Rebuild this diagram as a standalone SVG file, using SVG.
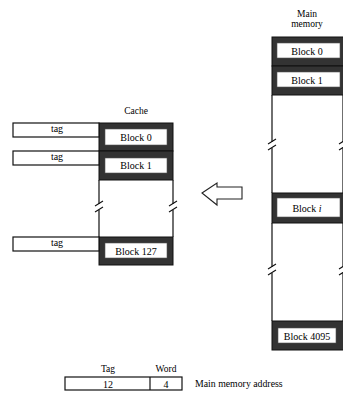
<svg xmlns="http://www.w3.org/2000/svg" width="343" height="399" viewBox="0 0 343 399">
<style>
text{font-family:"Liberation Serif","Times New Roman",serif;fill:#000;text-anchor:middle}
.lbl{font-size:9.5px}
.blk{font-size:10px}
.band{fill:#333;stroke:#111;stroke-width:1}
.inner{fill:#fff;stroke:#555;stroke-width:0.6}
.box{fill:#fff;stroke:#111;stroke-width:1.2}
.ln{stroke:#111;stroke-width:1.2;fill:none}
.brk{stroke:#111;stroke-width:1.1;fill:none}
</style>
<rect width="343" height="399" fill="#fff"/>

<g id="cache">
  <text class="lbl" x="136" y="114">Cache</text>
  <path class="ln" d="M99,180 V204 M99,210 V237 M173,180 V204 M173,210 V237"/>
  <path class="brk" d="M95,206 L103,201 M95,212 L103,207 M169,206 L177,201 M169,212 L177,207"/>
</g>
<g id="cache-block0">
  <rect class="band" x="99" y="123" width="74" height="28"/>
  <rect class="inner" x="105" y="129" width="62" height="16"/>
  <text class="blk" x="136" y="140.5">Block 0</text>
</g>
<g id="cache-block1">
  <rect class="band" x="99" y="151" width="74" height="29"/>
  <rect class="inner" x="105" y="158" width="62" height="15"/>
  <text class="blk" x="136" y="169">Block 1</text>
</g>
<g id="cache-block127">
  <rect class="band" x="99" y="237" width="74" height="28"/>
  <rect class="inner" x="105" y="243" width="62" height="15"/>
  <text class="blk" x="136" y="254.5">Block 127</text>
</g>
<g id="tag0">
  <rect class="box" x="13" y="123" width="86" height="14"/>
  <text class="blk" x="57" y="131.5">tag</text>
</g>
<g id="tag1">
  <rect class="box" x="13" y="151" width="86" height="14"/>
  <text class="blk" x="57" y="159.5">tag</text>
</g>
<g id="tag127">
  <rect class="box" x="13" y="237" width="86" height="14"/>
  <text class="blk" x="57" y="245.5">tag</text>
</g>

<g id="main-memory">
  <text class="lbl" x="307" y="17">Main</text>
  <text class="lbl" x="307" y="27">memory</text>
  <path class="ln" d="M272,95 V142 M272,148 V193 M272,223 V267 M272,273 V321 M343,95 V142 M343,148 V193 M343,223 V267 M343,273 V321"/>
  <path class="brk" d="M268,144 L276,139 M268,150 L276,145 M268,269 L276,264 M268,275 L276,270 M339,144 L347,139 M339,150 L347,145 M339,269 L347,264 M339,275 L347,270"/>
</g>
<g id="mm-block0">
  <rect class="band" x="272" y="37" width="72" height="29"/>
  <rect class="inner" x="277" y="43" width="63" height="15"/>
  <text class="blk" x="307" y="54.5">Block 0</text>
</g>
<g id="mm-block1">
  <rect class="band" x="272" y="66" width="72" height="29"/>
  <rect class="inner" x="277" y="72" width="63" height="15"/>
  <text class="blk" x="307" y="83.5">Block 1</text>
</g>
<g id="mm-blocki">
  <rect class="band" x="272" y="193" width="72" height="30"/>
  <rect class="inner" x="277" y="198" width="63" height="19"/>
  <text class="blk" x="307" y="211.5">Block <tspan font-style="italic">i</tspan></text>
</g>
<g id="mm-block4095">
  <rect class="band" x="272" y="321" width="72" height="29"/>
  <rect class="inner" x="278" y="328" width="58" height="15"/>
  <text class="blk" x="307" y="339.5">Block 4095</text>
</g>

<g id="connectors">
  <path d="M202,193 L217,183 L217,187 L242,187 L242,199 L217,199 L217,205 Z" fill="#fff" stroke="#222" stroke-width="1.1" stroke-linejoin="miter"/>
</g>

<g id="address">
  <text class="lbl" x="108" y="372">Tag</text>
  <text class="lbl" x="166" y="372">Word</text>
  <rect class="box" x="65" y="377" width="117" height="13"/>
  <line class="ln" x1="150" y1="377" x2="150" y2="390"/>
  <text class="blk" x="108" y="387.5">12</text>
  <text class="blk" x="166" y="387.5">4</text>
  <text class="lbl" x="195" y="387" style="text-anchor:start;font-size:9.8px">Main memory address</text>
</g>
</svg>
